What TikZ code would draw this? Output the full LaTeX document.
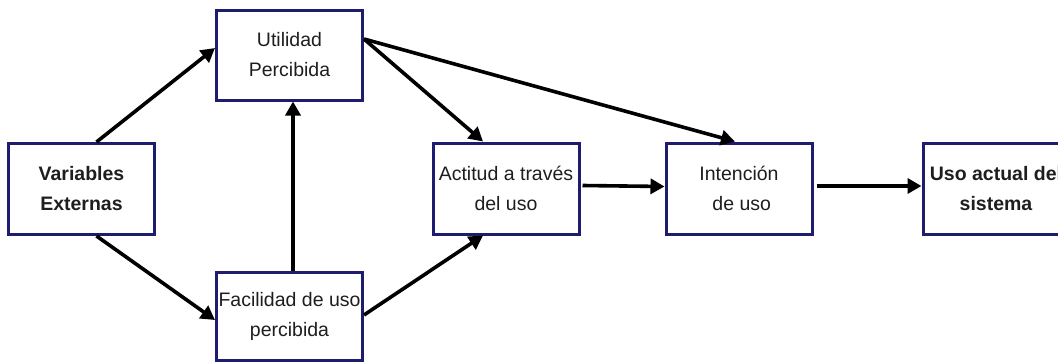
\documentclass[tikz,border=0pt]{standalone}
\usepackage{fontspec}
\setmainfont{Liberation Sans}
\usetikzlibrary{arrows.meta}
\definecolor{boxnavy}{RGB}{30,28,110}
\definecolor{txt}{RGB}{30,30,30}
\begin{document}
\begin{tikzpicture}[x=1pt,y=-1pt,
  box/.style={draw=boxnavy,line width=3pt,fill=white,minimum width=146pt,minimum height=91pt,
    inner sep=0pt,align=center,text=txt,font=\fontsize{19.5}{30}\selectfont},
  conn/.style={line width=3.6pt,black,-{Triangle[length=14pt,width=15pt]}}]
\useasboundingbox (0,0) rectangle (1058,362);
\clip (0,0) rectangle (1058,362);
\node[box,font=\bfseries\fontsize{19.5}{30}\selectfont] (v) at (81.5,189) {Variables\\Externas};
\node[box,minimum height=90pt] (u) at (289.5,55) {Utilidad\\Percibida};
\node[box,minimum height=88pt] (f) at (289.5,316) {Facilidad de uso\\percibida};
\node[box] (a) at (506,188.5) {Actitud a través\\del uso};
\node[box] (i) at (739,188.5) {Intención\\\ de uso};
\node[box,font=\bfseries\fontsize{19.5}{30}\selectfont] (s) at (996,188.5) {Uso actual del\\sistema};
\draw[conn] ([xshift=15pt]v.north) -- ([yshift=7pt]u.west);
\draw[conn] ([xshift=15pt]v.south) -- ([yshift=-4pt]f.west);
\draw[conn] ([xshift=3.5pt]f.north) -- ([xshift=3.5pt]u.south);
\draw[conn] ([yshift=1pt]f.east) -- ([xshift=-23pt]a.south);
\draw[conn] ([yshift=16pt]u.east) -- ([xshift=-23pt]a.north);
\draw[conn] ([yshift=16pt]u.east) -- ([xshift=-4pt]i.north);
\draw[conn] ([xshift=2pt,yshift=3pt]a.east) -- ([yshift=2pt]i.west);
\draw[conn] ([xshift=3pt,yshift=2.5pt]i.east) -- ([yshift=2.5pt]s.west);
\end{tikzpicture}
\end{document}
